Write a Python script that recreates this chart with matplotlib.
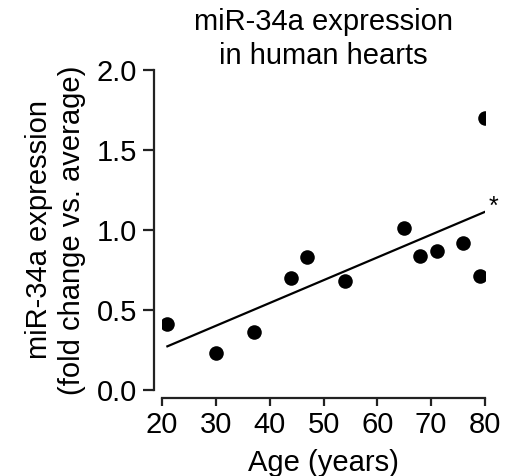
import numpy as np
import matplotlib
matplotlib.use("Agg")
import matplotlib.pyplot as plt

plt.rcParams['font.family'] = ['Liberation Sans', 'DejaVu Sans']

age = [21, 30, 37, 44, 47, 54, 65, 68, 71, 76, 79, 80]
expr = [0.41, 0.23, 0.36, 0.70, 0.83, 0.68, 1.01, 0.84, 0.87, 0.92, 0.71, 1.70]
xticks = [20, 30, 40, 50, 60, 70, 80]
yticks = [0.0, 0.5, 1.0, 1.5, 2.0]
title = "miR-34a expression\nin human hearts"
xlabel = "Age (years)"
ylabel = "miR-34a expression\n(fold change vs. average)"

FS = 21
fig = plt.figure(figsize=(5.13, 4.76), dpi=100)
ax = fig.add_axes([162/513, 1-390/476, 323/513, 320/476])

ax.scatter(age, expr, s=110, color='black', zorder=3, linewidths=0)
slope, intercept = np.polyfit(age, expr, 1)
fx = np.array([min(age), max(age)])
ax.plot(fx, slope*fx + intercept, color='black', lw=1.6)
ax.text(fx[-1] + 0.6, slope*fx[-1] + intercept + 0.03, "*", fontsize=18,
        ha='left', va='center')

ax.set_xlim(20, 80)
ax.set_ylim(0, 2.0)
ax.set_xticks(xticks)
ax.set_yticks(yticks)
ax.set_yticklabels([f"{v:.1f}" for v in yticks])
ax.tick_params(labelsize=FS, width=1.6, color='#222222')
ax.tick_params(axis='y', length=8, pad=4)
ax.tick_params(axis='x', length=6, pad=3)
for s in ['top', 'right']:
    ax.spines[s].set_visible(False)
for s in ['left', 'bottom']:
    ax.spines[s].set_linewidth(1.6)
    ax.spines[s].set_color('#222222')
    ax.spines[s].set_position(('outward', 6))
ax.set_xlabel(xlabel, fontsize=FS, labelpad=7)
ax.set_ylabel(ylabel, fontsize=FS, labelpad=8, linespacing=1.2)
ax.set_title(title, fontsize=FS, pad=-3, linespacing=1.25)

fig.savefig("out.png", dpi=100)
